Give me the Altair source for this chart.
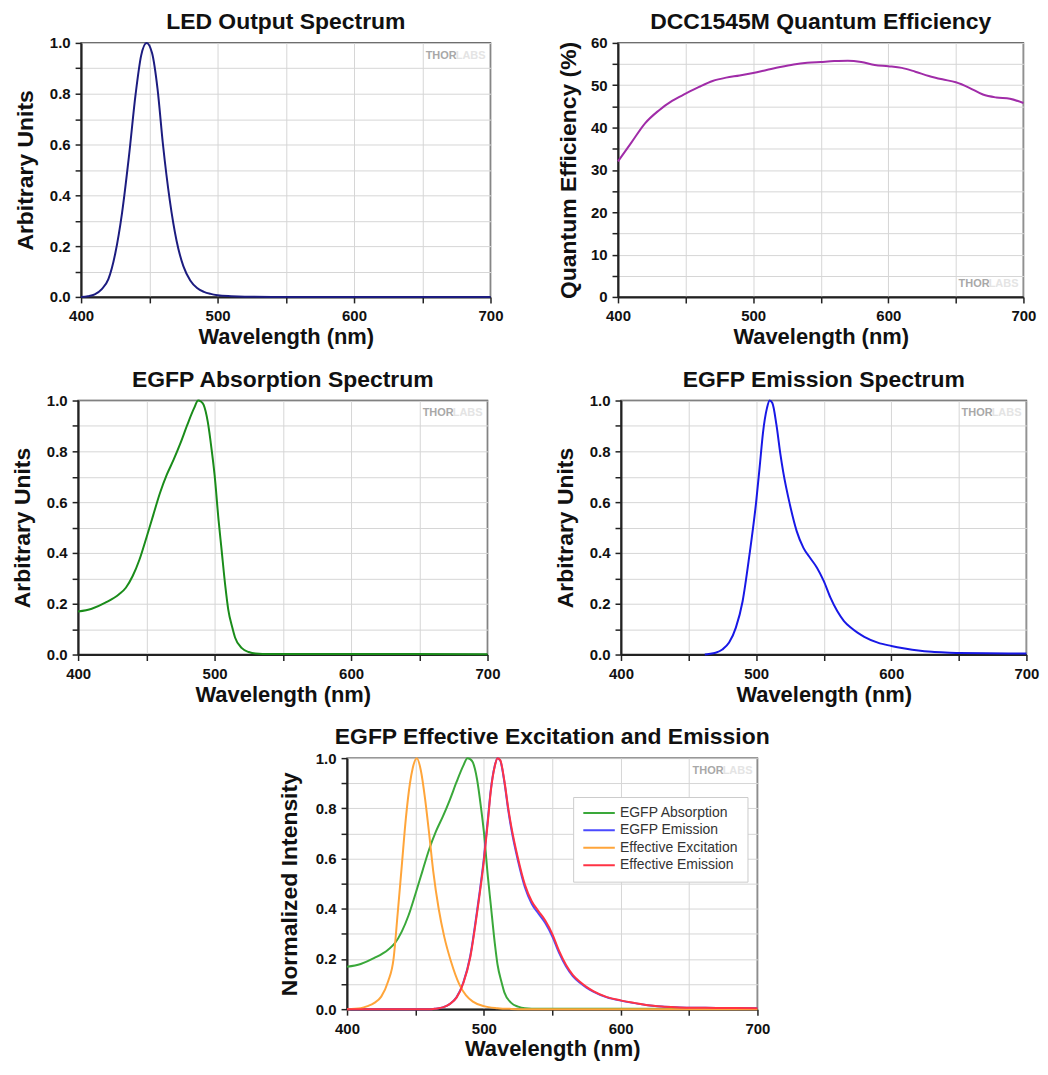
import altair as alt
import pandas as pd

# ---------------- data ----------------
LED_WL = [400, 405, 410, 415, 420, 425, 430, 435, 440, 444, 448, 452, 456, 460, 465, 470, 475, 480, 485, 490, 495, 500, 510, 520, 540, 600, 700]
LED_VAL = [0.0, 0.003, 0.01, 0.03, 0.07, 0.17, 0.33, 0.55, 0.80, 0.95, 1.0, 0.96, 0.82, 0.60, 0.38, 0.22, 0.12, 0.065, 0.035, 0.02, 0.012, 0.007, 0.003, 0.001, 0.0, 0.0, 0.0]

QE_WL = [400, 410, 420, 430, 440, 450, 460, 470, 480, 490, 500, 510, 520, 530, 540, 550, 560, 570, 580, 590, 600, 610, 620, 630, 640, 650, 660, 670, 680, 690, 700]
QE_VAL = [32.0, 36.5, 41.0, 44.0, 46.3, 48.0, 49.6, 51.0, 51.8, 52.3, 52.9, 53.6, 54.3, 54.9, 55.3, 55.5, 55.7, 55.8, 55.5, 54.8, 54.5, 54.1, 53.2, 52.2, 51.4, 50.7, 49.4, 47.8, 47.1, 46.8, 45.8]

ABS_WL = [400, 410, 420, 430, 435, 440, 445, 450, 455, 460, 465, 470, 475, 480, 485, 488, 490, 492, 495, 498, 500, 503, 505, 508, 510, 513, 515, 520, 525, 530, 540, 600, 700]
ABS_VAL = [0.169, 0.18, 0.204, 0.237, 0.263, 0.309, 0.374, 0.459, 0.548, 0.636, 0.708, 0.767, 0.832, 0.904, 0.97, 1.0, 0.996, 0.983, 0.917, 0.80, 0.708, 0.525, 0.42, 0.263, 0.178, 0.106, 0.067, 0.025, 0.01, 0.004, 0.002, 0.002, 0.001]

EM_WL = [462, 465, 470, 475, 480, 485, 490, 495, 500, 503, 505, 508, 510, 512, 515, 518, 520, 525, 530, 535, 540, 545, 550, 555, 560, 565, 570, 575, 580, 590, 600, 610, 620, 630, 640, 650, 670, 700]
EM_VAL = [0.0, 0.002, 0.007, 0.02, 0.047, 0.106, 0.21, 0.39, 0.60, 0.76, 0.87, 0.97, 1.0, 0.99, 0.905, 0.787, 0.72, 0.59, 0.486, 0.42, 0.38, 0.342, 0.29, 0.224, 0.171, 0.132, 0.106, 0.086, 0.07, 0.047, 0.034, 0.024, 0.016, 0.011, 0.008, 0.006, 0.005, 0.004]

# combined panel
C_EM_WL = [400, 450] + EM_WL
C_EM_VAL = [0.0, 0.0] + EM_VAL
C_EFFEM_VAL = [0.0, 0.0, 0.0, 0.002, 0.007, 0.02, 0.046, 0.104, 0.205, 0.382, 0.59, 0.75, 0.865, 0.968, 1.0, 0.992, 0.91, 0.795, 0.73, 0.6, 0.496, 0.43, 0.39, 0.352, 0.3, 0.232, 0.177, 0.137, 0.11, 0.089, 0.072, 0.048, 0.035, 0.025, 0.016, 0.011, 0.008, 0.006, 0.005, 0.004]

EXC_WL = [400, 410, 415, 420, 425, 430, 434, 437, 440, 443, 446, 448, 451, 454, 457, 460, 463, 467, 471, 476, 482, 487, 492, 500, 510, 520, 530, 700]
EXC_VAL = [0.0, 0.004, 0.012, 0.025, 0.05, 0.11, 0.2, 0.38, 0.57, 0.76, 0.9, 0.96, 1.0, 0.95, 0.84, 0.70, 0.55, 0.40, 0.29, 0.19, 0.10, 0.055, 0.03, 0.012, 0.004, 0.001, 0.0, 0.0]

SERIES = ["EGFP Absorption", "EGFP Emission", "Effective Excitation", "Effective Emission"]
SERIES_COLORS = ["#3aa83a", "#4a4aff", "#ffa53a", "#ff3344"]

FONT = "Liberation Sans"
WL_, WR_ = 411, 407   # left / right column plot widths
H = 255


def watermark(x_right, y):
    thor = alt.Chart(pd.DataFrame({"t": ["THOR"]})).mark_text(
        text="THOR", font=FONT, fontWeight="bold", fontSize=11, color="#a8a8a8", align="right", baseline="middle"
    ).encode(x=alt.value(x_right - 29), y=alt.value(y))
    labs = alt.Chart(pd.DataFrame({"t": ["LABS"]})).mark_text(
        text="LABS", font=FONT, fontWeight="bold", fontSize=11, color="#e4e4e4", align="right", baseline="middle"
    ).encode(x=alt.value(x_right), y=alt.value(y))
    return thor + labs


def xenc():
    return alt.X(
        "wl:Q",
        scale=alt.Scale(domain=[400, 700], nice=False),
        axis=alt.Axis(
            title="Wavelength (nm)",
            values=[400, 450, 500, 550, 600, 650, 700],
            labelExpr="datum.value % 100 == 0 ? datum.label : ''",
            format="d",
            labelFlush=False,
            titlePadding=3,
            labelPadding=6,
        ),
    )


def yenc_unit(title, tpad):
    return alt.Y(
        "v:Q",
        scale=alt.Scale(domain=[0, 1], nice=False),
        axis=alt.Axis(
            title=title,
            values=[round(i * 0.1, 1) for i in range(11)],
            labelExpr="round(datum.value * 10) % 2 == 0 ? format(datum.value, '.1f') : ''",
            labelFlush=False,
            labelPadding=5,
            titlePadding=tpad,
        ),
    )


def titled(text):
    return alt.TitleParams(text=text, font=FONT, fontWeight="bold", fontSize=23, anchor="middle", offset=2, color="#111")


def simple_panel(wl, val, color, title, ytitle, tpad, width, wm_y=13):
    df = pd.DataFrame({"wl": wl, "v": val})
    line = alt.Chart(df).mark_line(color=color, strokeWidth=2, interpolate="monotone").encode(
        x=xenc(), y=yenc_unit(ytitle, tpad)
    )
    return (line + watermark(width - 5, wm_y)).properties(width=width, height=H, title=titled(title))


p1 = simple_panel(LED_WL, LED_VAL, "#1c1c80", "LED Output Spectrum", "Arbitrary Units", 12, WL_)
p3 = simple_panel(ABS_WL, ABS_VAL, "#1a8c1a", "EGFP Absorption Spectrum", "Arbitrary Units", 12, WL_)
p4 = simple_panel(EM_WL, EM_VAL, "#1818e6", "EGFP Emission Spectrum", "Arbitrary Units", 12, WR_)

qe_df = pd.DataFrame({"wl": QE_WL, "v": QE_VAL})
p2_line = alt.Chart(qe_df).mark_line(color="#a02ca8", strokeWidth=2, interpolate="monotone").encode(
    x=xenc(),
    y=alt.Y(
        "v:Q",
        scale=alt.Scale(domain=[0, 60], nice=False),
        axis=alt.Axis(
            title="Quantum Efficiency (%)",
            values=list(range(0, 61, 5)),
            labelExpr="datum.value % 10 == 0 ? datum.label : ''",
            labelFlush=False,
            labelPadding=5,
            titlePadding=10,
        ),
    ),
)
p2 = (p2_line + watermark(WR_ - 5, H - 13)).properties(width=WR_, height=H, title=titled("DCC1545M Quantum Efficiency"))

rows = []
for wl, v in zip(ABS_WL, ABS_VAL):
    rows.append({"wl": wl, "v": v, "s": SERIES[0]})
for wl, v in zip(C_EM_WL, C_EM_VAL):
    rows.append({"wl": wl, "v": v, "s": SERIES[1]})
for wl, v in zip(EXC_WL, EXC_VAL):
    rows.append({"wl": wl, "v": v, "s": SERIES[2]})
for wl, v in zip(C_EM_WL, C_EFFEM_VAL):
    rows.append({"wl": wl, "v": v, "s": SERIES[3]})
comb = pd.DataFrame(rows)

p5_line = alt.Chart(comb).mark_line(strokeWidth=2, interpolate="monotone").encode(
    x=xenc(),
    y=yenc_unit("Normalized Intensity", 14),
    color=alt.Color(
        "s:N",
        scale=alt.Scale(domain=SERIES, range=SERIES_COLORS),
        sort=SERIES,
        legend=alt.Legend(
            title=None,
            orient="none",
            legendX=227,
            legendY=39,
            symbolType="stroke",
            symbolSize=1000,
            symbolStrokeWidth=2,
            clipHeight=14,
            labelFont=FONT,
            labelFontSize=14,
            labelColor="#333",
            labelOffset=4,
            rowPadding=3.5,
            padding=9,
            fillColor="white",
            strokeColor="#cccccc",
        ),
    ),
)
p5 = (p5_line + watermark(412 - 5, 13)).properties(
    width=412, height=252, title=titled("EGFP Effective Excitation and Emission")
)

chart = alt.vconcat(
    alt.hconcat(p1, p2, spacing=52),
    alt.hconcat(p3, p4, spacing=52),
    p5,
    spacing=19,
    center=True,
).resolve_legend(color="independent").configure_view(stroke="#333", strokeWidth=1.5).configure_axis(
    domainColor="#222",
    domainWidth=2,
    tickColor="#222",
    tickWidth=1.5,
    tickSize=6,
    gridColor="#d6d6d6",
    gridWidth=1,
    labelFont=FONT,
    labelFontWeight="bold",
    labelFontSize=15,
    labelColor="#111",
    titleFont=FONT,
    titleFontWeight="bold",
    titleFontSize=23,
    titleColor="#111",
).configure_axisX(titleFontSize=22).properties(padding={"left": 2, "top": 0, "right": 0, "bottom": 0})

chart.save("out.html", embed_options={"renderer": "svg", "actions": False})
